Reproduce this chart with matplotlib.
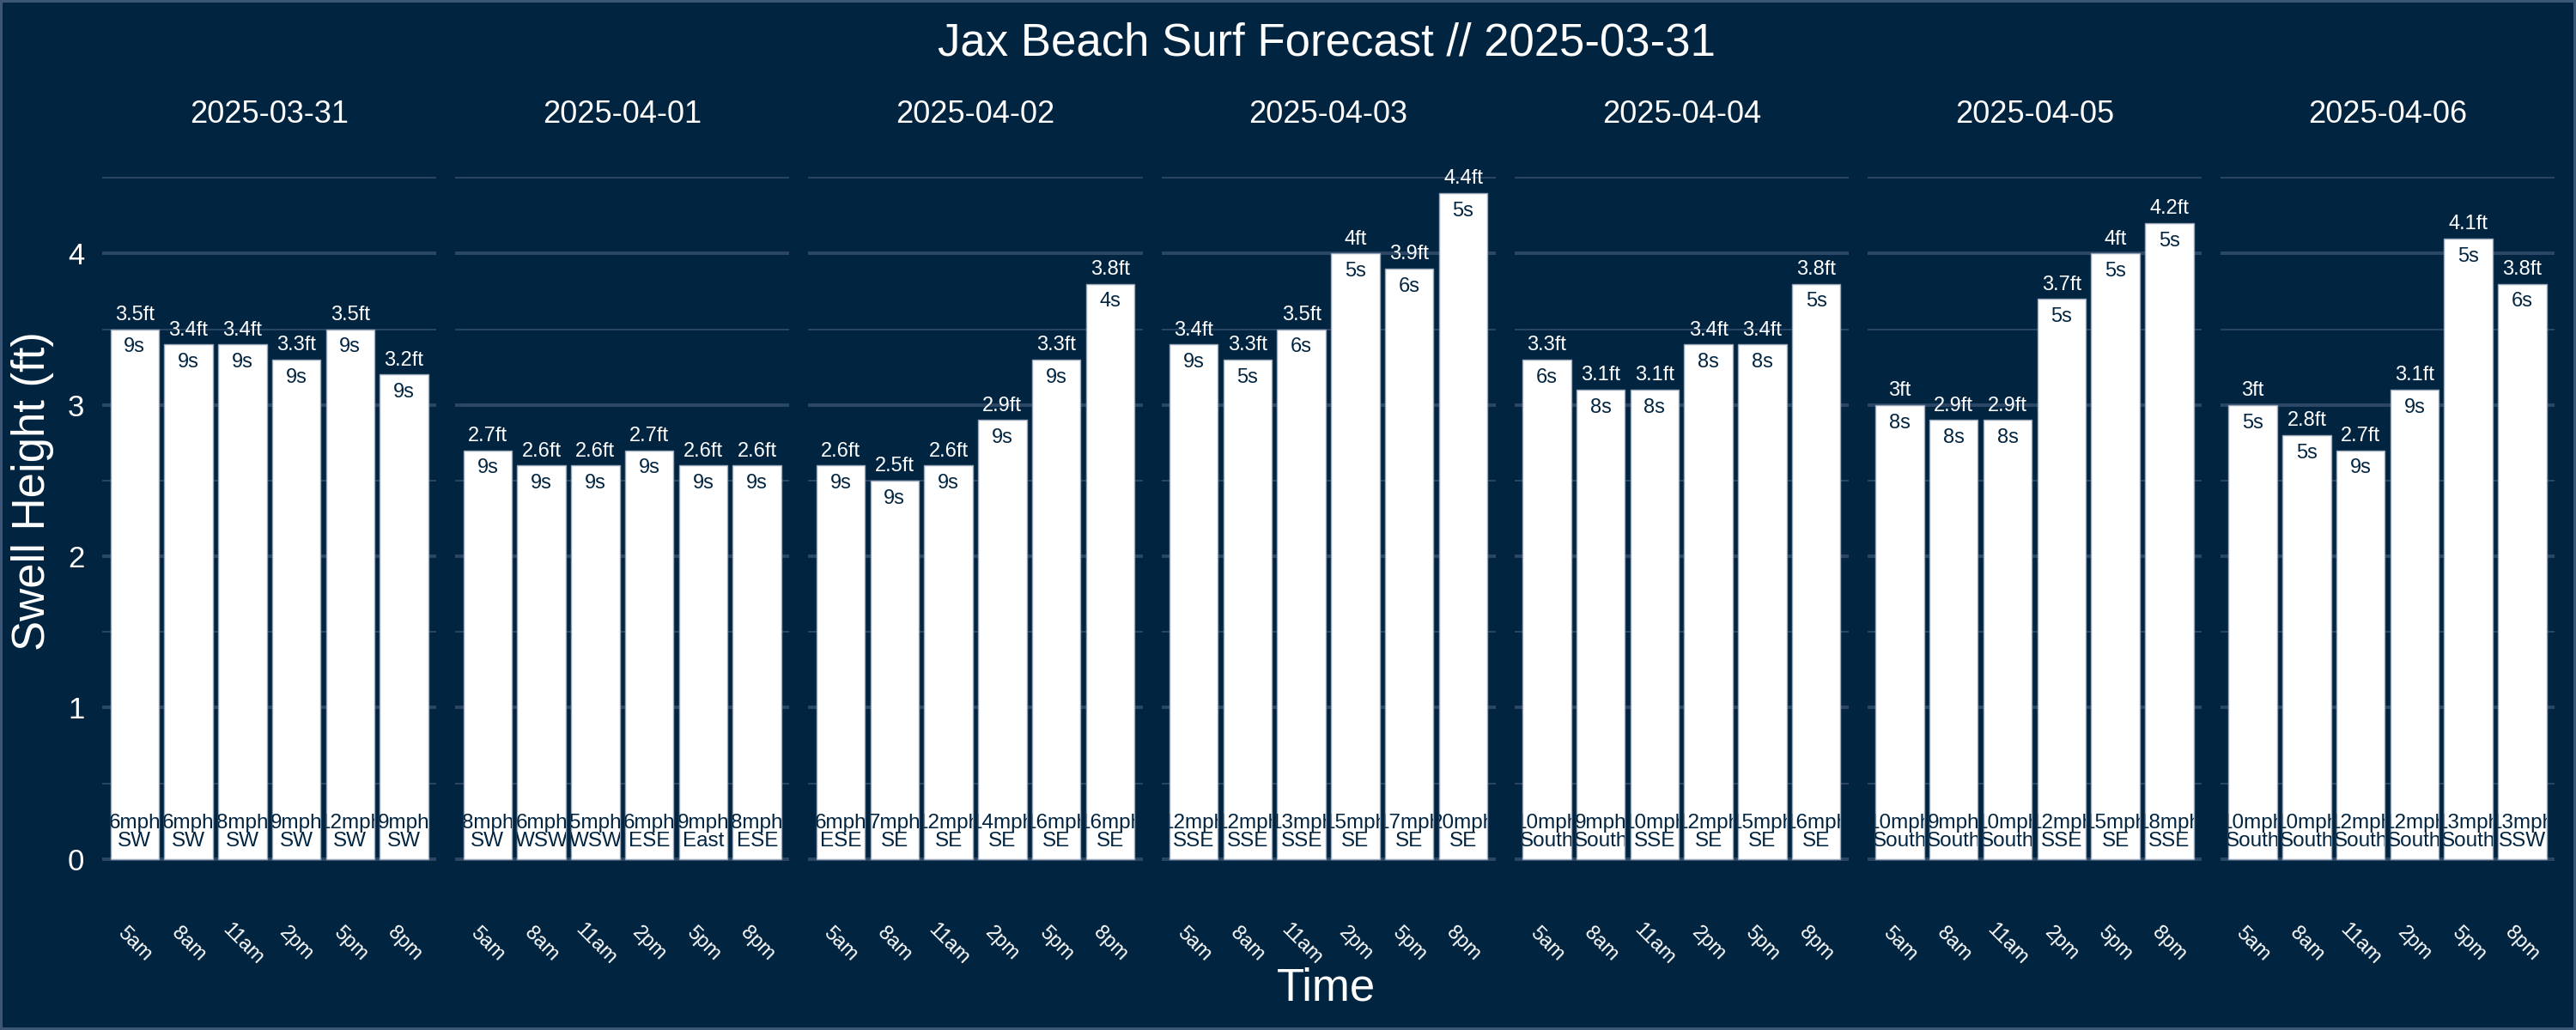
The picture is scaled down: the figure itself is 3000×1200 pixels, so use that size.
import matplotlib
matplotlib.use('Agg')
import matplotlib.pyplot as plt
from matplotlib.transforms import Bbox, TransformedBbox
import numpy as np

plt.rcParams['font.family'] = ['Liberation Sans', 'DejaVu Sans']

# forecast data, one list per day (5am..8pm)
dates = ['2025-03-31', '2025-04-01', '2025-04-02', '2025-04-03',
         '2025-04-04', '2025-04-05', '2025-04-06']
times = ['5am', '8am', '11am', '2pm', '5pm', '8pm']

heights = [
    [3.5, 3.4, 3.4, 3.3, 3.5, 3.2],
    [2.7, 2.6, 2.6, 2.7, 2.6, 2.6],
    [2.6, 2.5, 2.6, 2.9, 3.3, 3.8],
    [3.4, 3.3, 3.5, 4.0, 3.9, 4.4],
    [3.3, 3.1, 3.1, 3.4, 3.4, 3.8],
    [3.0, 2.9, 2.9, 3.7, 4.0, 4.2],
    [3.0, 2.8, 2.7, 3.1, 4.1, 3.8],
]
periods = [
    [9, 9, 9, 9, 9, 9],
    [9, 9, 9, 9, 9, 9],
    [9, 9, 9, 9, 9, 4],
    [9, 5, 6, 5, 6, 5],
    [6, 8, 8, 8, 8, 5],
    [8, 8, 8, 5, 5, 5],
    [5, 5, 9, 9, 5, 6],
]
wind_speed = [
    [6, 6, 8, 9, 12, 9],
    [8, 6, 5, 6, 9, 8],
    [6, 7, 12, 14, 16, 16],
    [12, 12, 13, 15, 17, 20],
    [10, 9, 10, 12, 15, 16],
    [10, 9, 10, 12, 15, 18],
    [10, 10, 12, 12, 13, 13],
]
wind_dir = [
    ['SW', 'SW', 'SW', 'SW', 'SW', 'SW'],
    ['SW', 'WSW', 'WSW', 'ESE', 'East', 'ESE'],
    ['ESE', 'SE', 'SE', 'SE', 'SE', 'SE'],
    ['SSE', 'SSE', 'SSE', 'SE', 'SE', 'SE'],
    ['South', 'South', 'SSE', 'SE', 'SE', 'SE'],
    ['South', 'South', 'South', 'SSE', 'SE', 'SSE'],
    ['South', 'South', 'South', 'South', 'South', 'SSW'],
]

bg = '#012440'
grid_col = '#2c4666'
ymax = max(max(h) for h in heights) * 1.05

fig, axes = plt.subplots(1, 7, figsize=(30, 12), dpi=100, sharey=True)
fig.patch.set_facecolor(bg)
fig.patch.set_edgecolor('#3b5677')
fig.patch.set_linewidth(3)
plt.subplots_adjust(left=0.0397, right=0.9917, bottom=0.132, top=0.845, wspace=0.0566)

x = np.arange(len(times))
for i, ax in enumerate(axes):
    ax.set_facecolor(bg)
    for s in ax.spines.values():
        s.set_visible(False)
    ax.set_axisbelow(True)
    ax.set_yticks([0, 1, 2, 3, 4])
    ax.set_yticks([0.5, 1.5, 2.5, 3.5, 4.5], minor=True)
    ax.grid(axis='y', which='major', color=grid_col, linewidth=2.9)
    ax.grid(axis='y', which='minor', color=grid_col, linewidth=1.4)
    ax.tick_params(which='both', length=0)
    ax.tick_params(axis='y', labelsize=25, labelcolor='white', pad=15)

    bars = ax.bar(x, heights[i], width=0.9, color='white', edgecolor='#9aa8ba', linewidth=1)
    for j, b in enumerate(bars):
        h = heights[i][j]
        ax.annotate(f'{h:g}ft', (x[j], h), xytext=(0, 12), textcoords='offset points',
                    ha='center', va='center', color='white', fontsize=17)
        ax.annotate(f'{periods[i][j]}s', (x[j], h), xytext=(0, -15), textcoords='offset points',
                    ha='center', va='center', color=bg, fontsize=17)
        t = ax.annotate(f'{wind_speed[i][j]}mph\n{wind_dir[i][j]}', (x[j], 0), xytext=(0, 7),
                        textcoords='offset points', ha='center', va='bottom',
                        color=bg, fontsize=17.5, linespacing=0.92)
        # wind text is cut off at the bar edges
        box = Bbox.from_extents(b.get_x(), 0, b.get_x() + b.get_width(), h)
        t.set_clip_on(True)
        t.set_clip_box(TransformedBbox(box, ax.transData))

    ax.set_xlim(-0.6, len(times) - 0.4)
    ax.set_ylim(-0.05 * ymax, ymax)
    ax.set_xticks(x)
    ax.set_xticklabels(times, rotation=-45, ha='center', va='center',
                       rotation_mode='anchor', color='white', fontsize=17)
    ax.tick_params(axis='x', pad=42)
    ax.text(0.5, 1.061, dates[i], transform=ax.transAxes, ha='center', va='center',
            color='white', fontsize=26)

fig.text(0.515, 0.958, 'Jax Beach Surf Forecast // 2025-03-31', ha='center', va='center',
         color='white', fontsize=38)
fig.text(0.0127, 0.523, 'Swell Height (ft)', rotation=90, ha='center', va='center',
         color='white', fontsize=38)
fig.text(0.515, 0.04, 'Time', ha='center', va='center', color='white', fontsize=38)

fig.savefig('out.png', facecolor=bg, edgecolor=fig.get_edgecolor())
